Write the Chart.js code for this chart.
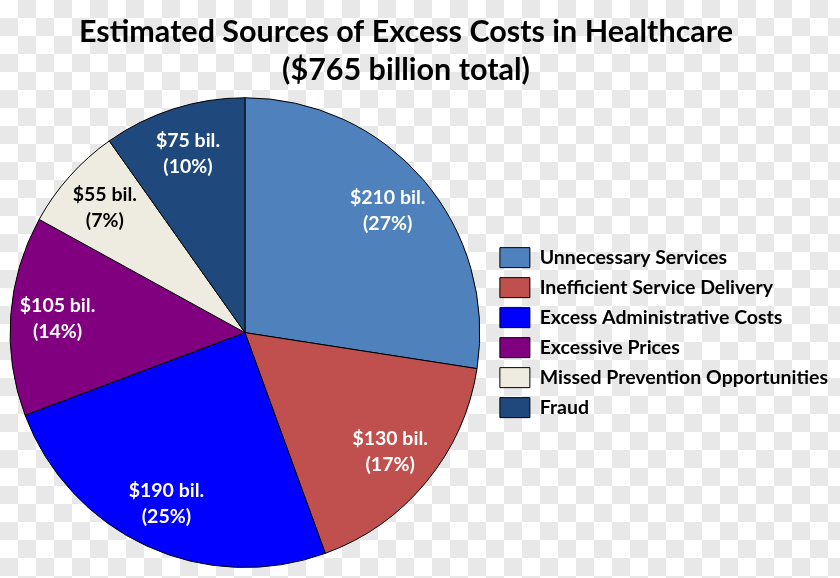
<!DOCTYPE html>
<html>
<head>
<meta charset="utf-8">
<script src="https://cdn.jsdelivr.net/npm/chart.js@4"></script>
<style>
  html, body { margin: 0; padding: 0; }
  body {
    width: 840px; height: 578px; overflow: hidden;
    background-color: #fff;
    background-image: conic-gradient(#e8e8e8 0 25%, #fff 0 50%, #e8e8e8 0 75%, #fff 0);
    background-size: 36px 36px;
  }
  #wrap { position: relative; width: 840px; height: 578px; }
</style>
</head>
<body>
<div id="wrap"><canvas id="chart"></canvas></div>
<script>
const categories = [
  "Unnecessary Services",
  "Inefficient Service Delivery",
  "Excess Administrative Costs",
  "Excessive Prices",
  "Missed Prevention Opportunities",
  "Fraud"
];
const costs = [210, 130, 190, 105, 55, 75]; // $ billions
const colors = ["#4f81bd", "#c0504d", "#0000ff", "#800080", "#eeece1", "#1f497d"];
const labelColors = ["#fff", "#fff", "#fff", "#fff", "#000", "#fff"];
const titleLines = ["Estimated Sources of Excess Costs in Healthcare", "($765 billion total)"];

const FONT = "Lato, 'Open Sans', sans-serif";
const total = costs.reduce((a, b) => a + b, 0);

// draws "$210 bil." / "(27%)" inside each slice
const sliceLabels = {
  id: "sliceLabels",
  afterDatasetsDraw(chart) {
    const ctx = chart.ctx;
    const meta = chart.getDatasetMeta(0);
    ctx.save();
    ctx.font = "bold 19.5px " + FONT;
    ctx.textAlign = "center";
    ctx.textBaseline = "middle";
    meta.data.forEach((arc, i) => {
      const mid = (arc.startAngle + arc.endAngle) / 2;
      const r = arc.outerRadius * 0.8;
      const x = arc.x + Math.cos(mid) * r;
      const y = arc.y + Math.sin(mid) * r;
      const pct = Math.round(costs[i] / total * 100);
      ctx.fillStyle = labelColors[i];
      ctx.fillText("$" + costs[i] + " bil.", x, y - 13);
      ctx.fillText("(" + pct + "%)", x, y + 13);
    });
    ctx.restore();
  }
};

// title in the original sits a bit left of the canvas centre
const titleShift = {
  id: "titleShift",
  afterLayout(chart) {
    if (chart.titleBlock) chart.titleBlock.right -= 26;
  }
};

new Chart(document.getElementById("chart"), {
  type: "pie",
  data: {
    labels: categories,
    datasets: [{
      data: costs,
      backgroundColor: colors,
      borderColor: "#000",
      borderWidth: 1
    }]
  },
  options: {
    responsive: true,
    maintainAspectRatio: false,
    animation: false,
    layout: { padding: { bottom: 10, right: 2 } },
    plugins: {
      title: {
        display: true,
        text: titleLines,
        color: "#000",
        font: { family: FONT, size: 30.5, weight: "bold", lineHeight: 1.25 },
        padding: { top: 13, bottom: 8 }
      },
      legend: {
        position: "right",
        fullSize: false,
        labels: {
          color: "#000",
          boxWidth: 30,
          boxHeight: 20,
          padding: 10,
          font: { family: FONT, size: 19.5, weight: "bold" }
        }
      },
      tooltip: { enabled: false }
    }
  },
  plugins: [sliceLabels, titleShift]
});
</script>
</body>
</html>
